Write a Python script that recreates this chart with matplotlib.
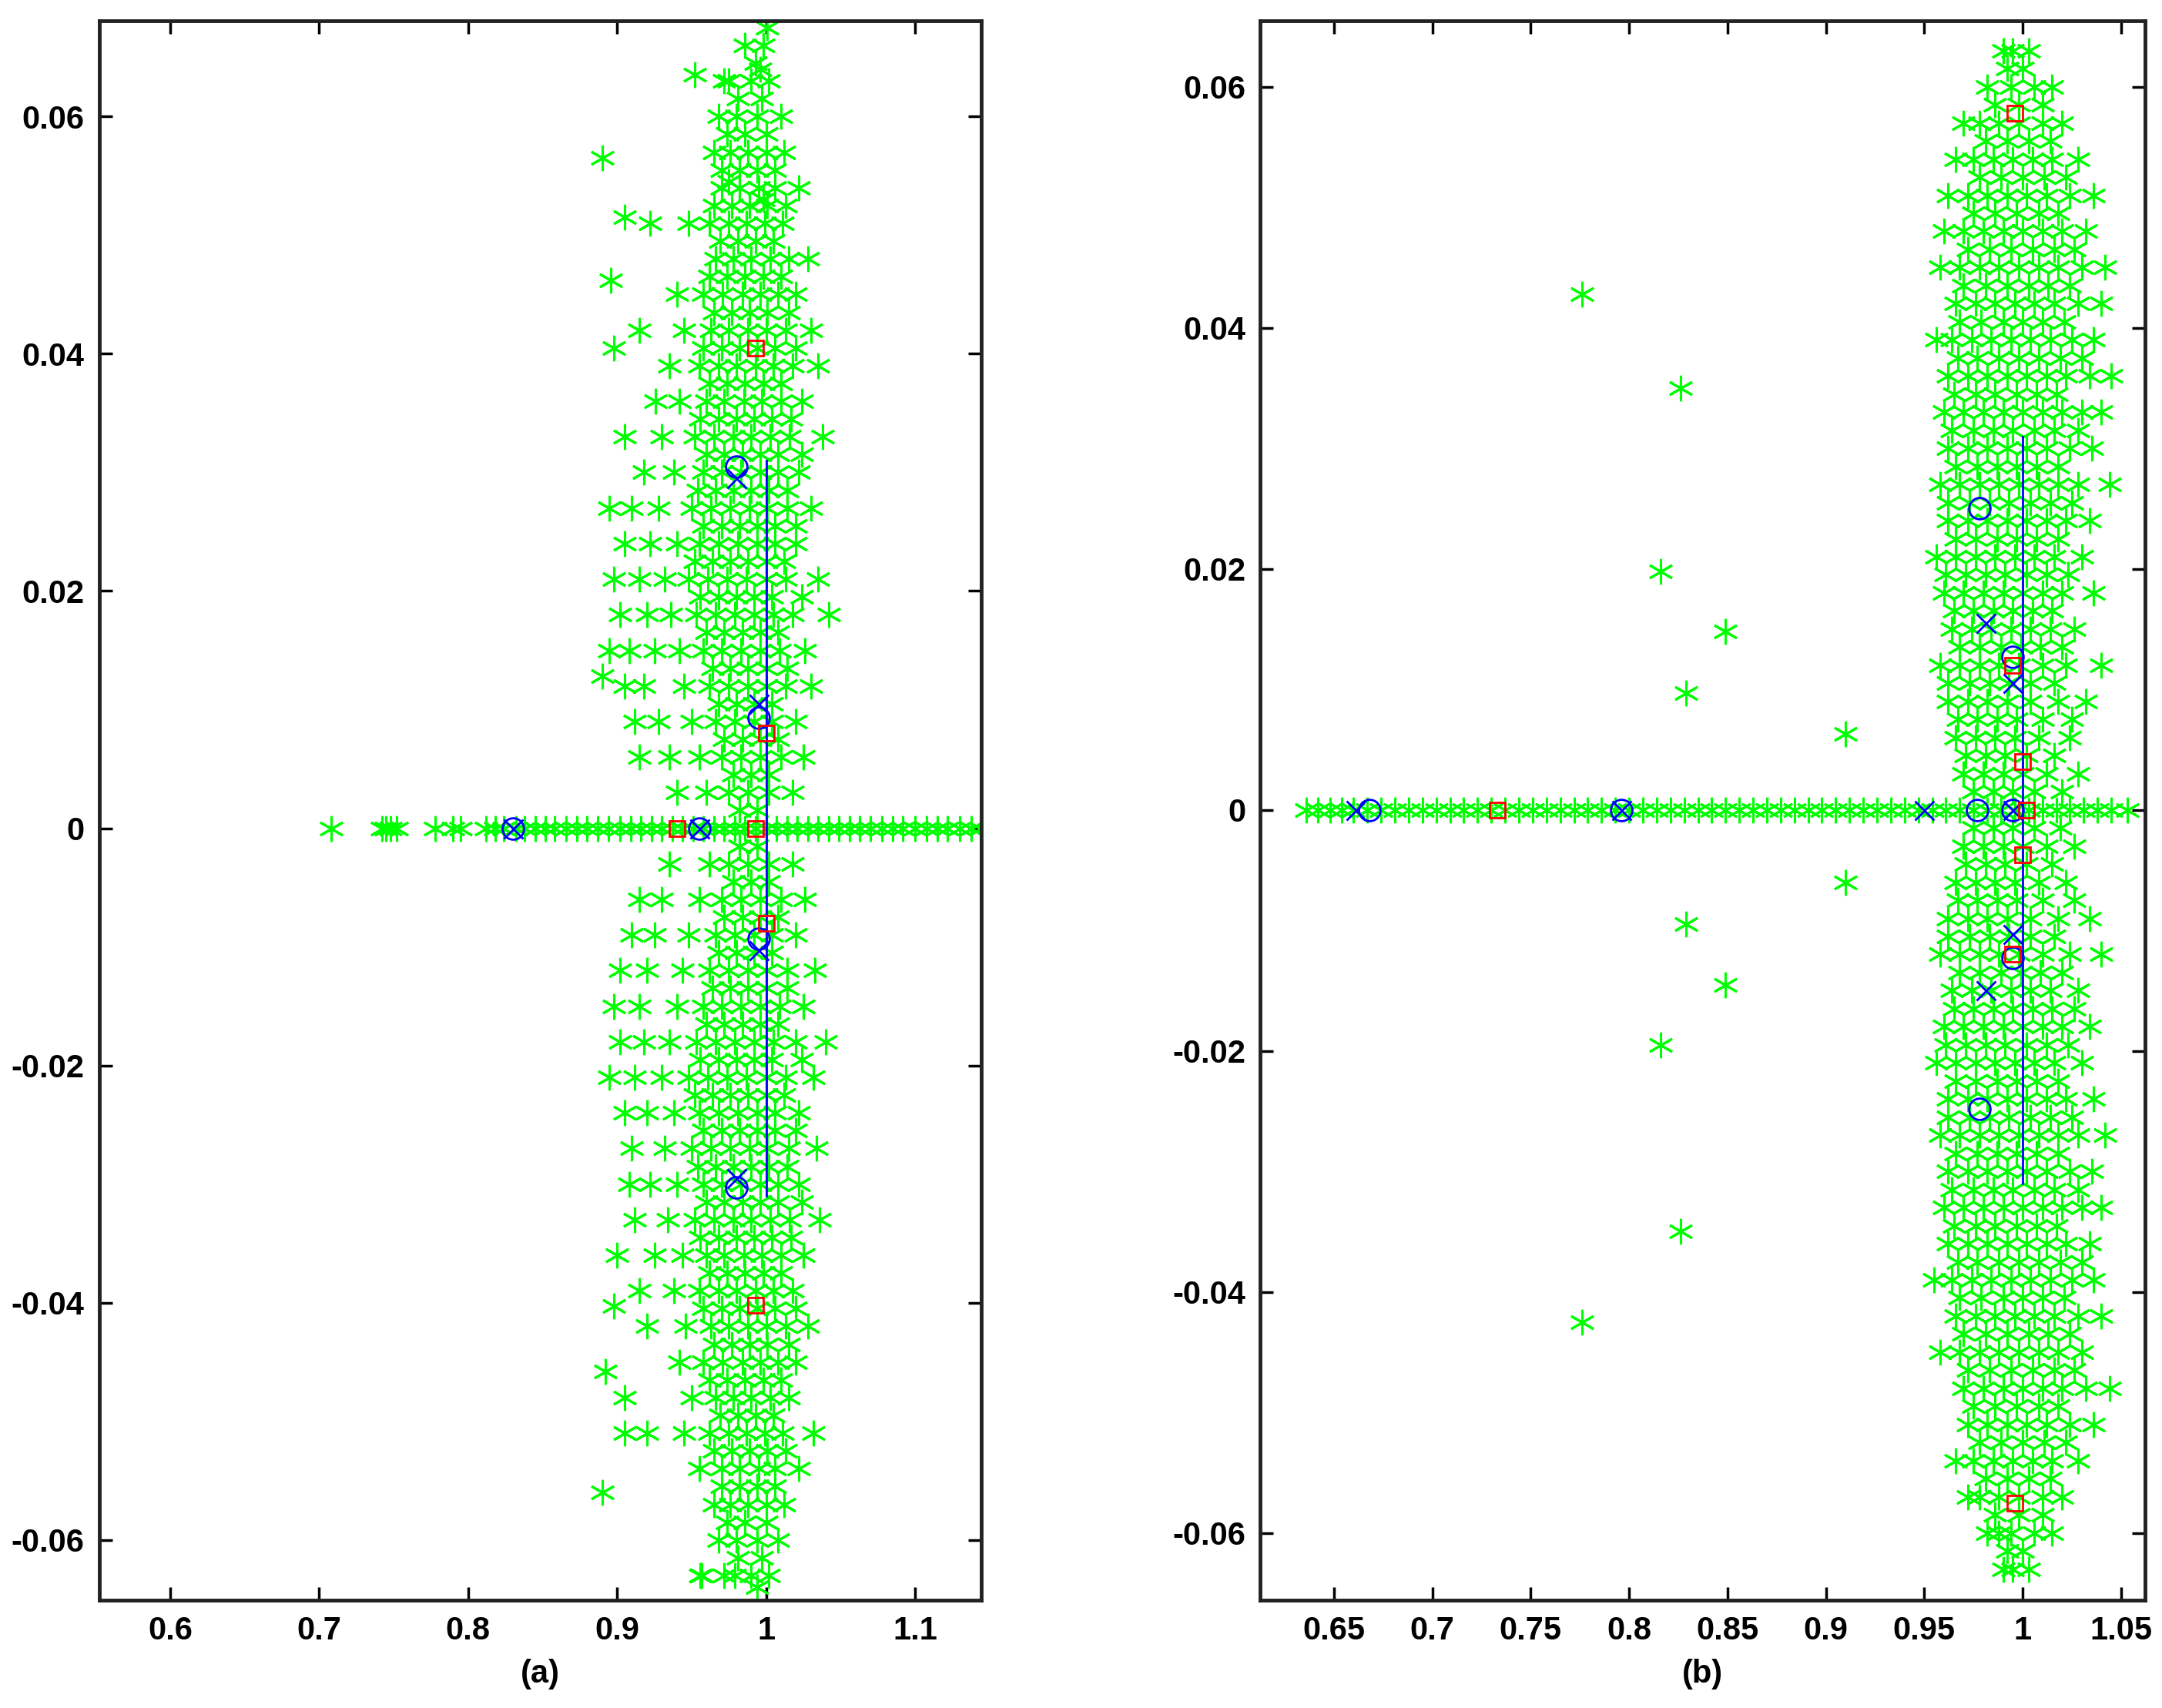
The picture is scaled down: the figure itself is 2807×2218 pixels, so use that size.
import matplotlib
matplotlib.use("Agg")
import matplotlib.pyplot as plt

plt.rcParams['font.family'] = ['Liberation Sans', 'DejaVu Sans']
plt.rcParams['font.weight'] = 'bold'

# ---------------- Panel (a) data ----------------
a_band_x = [0.708, 0.742, 0.745, 0.748, 0.752, 0.778, 0.790, 0.795, 0.812, 0.818, 0.824, 0.832,
            0.838, 0.845, 0.852, 0.858, 0.866, 0.873, 0.880, 0.887, 0.894, 0.902, 0.909, 0.916,
            0.923, 0.930, 0.937, 0.944, 0.951, 0.958, 0.965, 0.972, 0.979, 0.986, 0.993, 1.000,
            1.007, 1.014, 1.021, 1.028, 1.035, 1.042, 1.049, 1.056, 1.063, 1.070, 1.078, 1.085,
            1.092, 1.100, 1.108, 1.115, 1.122, 1.130, 1.138, 1.144]
a_cloud_y = [0.066, 0.063, 0.060, 0.057, 0.054, 0.051, 0.048, 0.045, 0.042, 0.039, 0.036, 0.033,
             0.030, 0.027, 0.024, 0.021, 0.018, 0.015, 0.012, 0.009, 0.006, 0.003,
             -0.003, -0.006, -0.009, -0.012, -0.015, -0.018, -0.021, -0.024, -0.027, -0.030,
             -0.033, -0.036, -0.039, -0.042, -0.045, -0.048, -0.051, -0.054, -0.057, -0.060, -0.063]
a_cloud_x = [
    [0.998, 0.986],
    [0.972, 0.990, 1.002],
    [0.980, 0.994, 0.968, 1.010],
    [0.976, 0.988, 1.000, 0.965, 1.012],
    [0.970, 0.982, 0.995, 1.006, 1.022],
    [0.962, 0.975, 0.987, 0.999, 1.011, 0.948],
    [0.966, 0.978, 0.990, 1.003, 1.015, 1.028],
    [0.958, 0.971, 0.984, 0.996, 1.008, 1.020, 0.940],
    [0.963, 0.975, 0.988, 1.000, 1.013, 1.030, 0.945, 0.915],
    [0.955, 0.968, 0.980, 0.993, 1.005, 1.018, 1.035, 0.935],
    [0.960, 0.972, 0.985, 0.997, 1.010, 1.024, 0.942, 0.926],
    [0.952, 0.965, 0.978, 0.990, 1.003, 1.016, 1.038, 0.930, 0.905],
    [0.958, 0.970, 0.983, 0.996, 1.008, 1.022, 0.938, 0.918],
    [0.950, 0.963, 0.976, 0.989, 1.001, 1.014, 1.030, 0.928, 0.910, 0.895],
    [0.955, 0.968, 0.981, 0.994, 1.006, 1.020, 0.940, 0.922, 0.905],
    [0.948, 0.961, 0.974, 0.987, 1.000, 1.013, 1.035, 0.932, 0.915, 0.898],
    [0.953, 0.966, 0.979, 0.992, 1.005, 1.018, 1.042, 0.936, 0.920, 0.902],
    [0.958, 0.970, 0.983, 0.996, 1.009, 1.026, 0.942, 0.925, 0.908, 0.895],
    [0.962, 0.975, 0.988, 1.000, 1.013, 1.030, 0.945, 0.918, 0.905],
    [0.966, 0.979, 0.992, 1.004, 1.020, 0.950, 0.928, 0.912],
    [0.970, 0.983, 0.996, 1.010, 1.025, 0.955, 0.935, 0.915],
    [0.975, 0.988, 1.002, 1.018, 0.960, 0.940],
    [0.975, 0.988, 1.002, 1.018, 0.962, 0.935],
    [0.970, 0.983, 0.996, 1.010, 1.026, 0.955, 0.930, 0.915],
    [0.966, 0.979, 0.992, 1.004, 1.020, 0.948, 0.925, 0.910],
    [0.962, 0.975, 0.988, 1.000, 1.014, 1.033, 0.944, 0.920, 0.902],
    [0.958, 0.970, 0.983, 0.996, 1.009, 1.025, 0.940, 0.915, 0.898],
    [0.953, 0.966, 0.979, 0.992, 1.005, 1.020, 1.040, 0.935, 0.918, 0.902],
    [0.948, 0.961, 0.974, 0.987, 1.000, 1.013, 1.032, 0.930, 0.912, 0.895],
    [0.955, 0.968, 0.981, 0.994, 1.006, 1.022, 0.938, 0.920, 0.905],
    [0.950, 0.963, 0.976, 0.989, 1.001, 1.015, 1.034, 0.932, 0.910],
    [0.958, 0.970, 0.983, 0.996, 1.008, 1.022, 0.940, 0.922, 0.908],
    [0.952, 0.965, 0.978, 0.990, 1.003, 1.016, 1.036, 0.934, 0.912],
    [0.960, 0.972, 0.985, 0.997, 1.010, 1.025, 0.944, 0.925, 0.900],
    [0.955, 0.968, 0.980, 0.993, 1.005, 1.018, 0.938, 0.915],
    [0.963, 0.975, 0.988, 1.000, 1.013, 1.028, 0.946, 0.920],
    [0.958, 0.971, 0.984, 0.996, 1.008, 1.020, 0.942],
    [0.966, 0.978, 0.990, 1.003, 1.015, 0.950, 0.905],
    [0.962, 0.975, 0.987, 0.999, 1.011, 1.032, 0.945],
    [0.970, 0.982, 0.995, 1.006, 1.022, 0.955],
    [0.976, 0.988, 1.000, 0.965, 1.012],
    [0.980, 0.994, 0.968, 1.008],
    [0.972, 0.990, 1.002, 0.956],
]
# interleaved denser core of panel (a)
a_core_y = [0.0645, 0.0615, 0.0585, 0.0555, 0.0525, 0.0495, 0.0465, 0.0435, 0.0405, 0.0375,
            0.0345, 0.0315, 0.0285, 0.0255, 0.0225, 0.0195, 0.0165, 0.0135, 0.0105, 0.0075,
            0.0045, 0.0015, -0.0015, -0.0045, -0.0075, -0.0105, -0.0135, -0.0165, -0.0195,
            -0.0225, -0.0255, -0.0285, -0.0315, -0.0345, -0.0375, -0.0405, -0.0435, -0.0465,
            -0.0495, -0.0525, -0.0555, -0.0585, -0.0615]
a_core_x = [
    [0.993], [0.981, 0.997], [0.974, 0.986, 1.000], [0.970, 0.982, 0.994, 1.006],
    [0.965, 0.977, 0.989, 1.001, 1.013], [0.969, 0.981, 0.993, 1.005], [0.962, 0.974, 0.986, 0.998, 1.010],
    [0.965, 0.977, 0.989, 1.001, 1.015], [0.958, 0.970, 0.982, 0.994, 1.006, 1.020],
    [0.962, 0.974, 0.986, 0.998, 1.010], [0.956, 0.968, 0.980, 0.992, 1.004, 1.017],
    [0.960, 0.972, 0.984, 0.996, 1.008, 1.024], [0.954, 0.966, 0.978, 0.990, 1.002, 1.014],
    [0.958, 0.970, 0.982, 0.994, 1.006, 1.020], [0.952, 0.964, 0.976, 0.988, 1.000, 1.012],
    [0.956, 0.968, 0.980, 0.992, 1.004, 1.024], [0.960, 0.972, 0.984, 0.996, 1.008],
    [0.964, 0.976, 0.988, 1.000, 1.014], [0.968, 0.980, 0.992, 1.004], [0.972, 0.984, 0.996, 1.008],
    [0.978, 0.990, 1.002], [0.982, 0.994], [0.982, 0.994], [0.978, 0.990, 1.002],
    [0.972, 0.984, 0.996, 1.008], [0.968, 0.980, 0.992, 1.004], [0.964, 0.976, 0.988, 1.000, 1.014],
    [0.960, 0.972, 0.984, 0.996, 1.008], [0.956, 0.968, 0.980, 0.992, 1.004, 1.024],
    [0.952, 0.964, 0.976, 0.988, 1.000, 1.012], [0.958, 0.970, 0.982, 0.994, 1.006, 1.020],
    [0.954, 0.966, 0.978, 0.990, 1.002, 1.014], [0.960, 0.972, 0.984, 0.996, 1.008, 1.024],
    [0.956, 0.968, 0.980, 0.992, 1.004, 1.017], [0.962, 0.974, 0.986, 0.998, 1.010],
    [0.958, 0.970, 0.982, 0.994, 1.006, 1.020], [0.965, 0.977, 0.989, 1.001, 1.015],
    [0.962, 0.974, 0.986, 0.998, 1.010], [0.969, 0.981, 0.993, 1.005],
    [0.965, 0.977, 0.989, 1.001, 1.013], [0.970, 0.982, 0.994, 1.006], [0.974, 0.986, 1.000],
    [0.981, 0.997],
]
a_out_x = [0.890, 0.896, 0.905, 0.922, 0.898, 0.890, 0.892, 0.920, 0.905, 0.898, 0.890, 0.952, 0.975, 0.996, 1.001, 0.979, 0.994, 0.957, 0.998, 0.975]
a_out_y = [0.0565, 0.0462, 0.0515, 0.0510, 0.0405, -0.0560, -0.0458, -0.0510, -0.0510, -0.0403, 0.0128, 0.0635, 0.0630, 0.0640, 0.0675, -0.0630, -0.0640, -0.0630, 0.0530, 0.0545]
a_o_x = [0.830, 0.955, 0.980, 0.995, 0.995, 0.980]
a_o_y = [0.0, 0.0, 0.0305, 0.0093, -0.0093, -0.0303]
a_x_x = [0.830, 0.955, 0.980, 0.995, 0.995, 0.980]
a_x_y = [0.0, 0.0, 0.0295, 0.0105, -0.0103, -0.0295]
a_s_x = [0.993, 1.000, 0.940, 0.993, 1.000, 0.993]
a_s_y = [0.0405, 0.0080, 0.0, 0.0, -0.0080, -0.0402]
a_line_x = [1.0, 1.0]
a_line_y = [-0.031, 0.031]

# ---------------- Panel (b) data ----------------
b_band_x = [0.636, 0.642, 0.648, 0.654, 0.660, 0.667, 0.674, 0.681, 0.688, 0.695, 0.702, 0.709,
            0.716, 0.723, 0.730, 0.737, 0.744, 0.751, 0.758, 0.765, 0.772, 0.779, 0.786, 0.793,
            0.800, 0.807, 0.814, 0.821, 0.828, 0.835, 0.842, 0.849, 0.856, 0.863, 0.870, 0.877,
            0.884, 0.891, 0.898, 0.905, 0.912, 0.919, 0.926, 0.933, 0.940, 0.947, 0.954, 0.961,
            0.968, 0.975, 0.982, 0.989, 0.996, 1.003, 1.010, 1.017, 1.024, 1.031, 1.038, 1.045, 1.053]
b_cloud_y = [0.063, 0.060, 0.057, 0.054, 0.051, 0.048, 0.045, 0.042, 0.039, 0.036, 0.033, 0.030,
             0.027, 0.024, 0.021, 0.018, 0.015, 0.012, 0.009, 0.006, 0.003,
             -0.003, -0.006, -0.009, -0.012, -0.015, -0.018, -0.021, -0.024, -0.027, -0.030,
             -0.033, -0.036, -0.039, -0.042, -0.045, -0.048, -0.051, -0.054, -0.057, -0.060, -0.063]
b_cloud_x = [
    [0.995, 1.003, 0.990],
    [0.982, 0.994, 1.006, 1.015],
    [0.978, 0.988, 0.998, 1.010, 1.020, 0.970],
    [0.975, 0.985, 0.995, 1.005, 1.015, 1.028, 0.966],
    [0.972, 0.982, 0.992, 1.002, 1.012, 1.024, 1.036, 0.962],
    [0.970, 0.980, 0.990, 1.000, 1.010, 1.020, 1.032, 0.960],
    [0.968, 0.978, 0.988, 0.998, 1.008, 1.018, 1.030, 1.042, 0.958],
    [0.966, 0.976, 0.986, 0.996, 1.006, 1.016, 1.028, 1.040],
    [0.964, 0.974, 0.984, 0.994, 1.004, 1.014, 1.025, 1.036, 0.956],
    [0.962, 0.972, 0.982, 0.992, 1.002, 1.012, 1.022, 1.034, 1.045],
    [0.960, 0.970, 0.980, 0.990, 1.000, 1.010, 1.020, 1.030, 1.040],
    [0.962, 0.972, 0.982, 0.992, 1.002, 1.012, 1.024, 1.035],
    [0.958, 0.968, 0.978, 0.988, 0.998, 1.008, 1.018, 1.028, 1.044],
    [0.962, 0.972, 0.982, 0.992, 1.002, 1.012, 1.022, 1.034],
    [0.956, 0.966, 0.976, 0.986, 0.996, 1.006, 1.016, 1.030],
    [0.960, 0.970, 0.980, 0.990, 1.000, 1.010, 1.020, 1.036],
    [0.964, 0.974, 0.984, 0.994, 1.004, 1.014, 1.026],
    [0.958, 0.968, 0.978, 0.988, 0.998, 1.010, 1.022, 1.040],
    [0.962, 0.972, 0.982, 0.992, 1.004, 1.018, 1.032],
    [0.966, 0.976, 0.986, 0.996, 1.008, 1.024],
    [0.970, 0.980, 0.990, 1.000, 1.012, 1.028],
    [0.970, 0.980, 0.990, 1.000, 1.012, 1.026],
    [0.966, 0.976, 0.986, 0.996, 1.008, 1.022],
    [0.962, 0.972, 0.982, 0.992, 1.004, 1.018, 1.034],
    [0.958, 0.968, 0.978, 0.988, 0.998, 1.010, 1.024, 1.040],
    [0.964, 0.974, 0.984, 0.994, 1.004, 1.014, 1.028],
    [0.960, 0.970, 0.980, 0.990, 1.000, 1.010, 1.020, 1.034],
    [0.956, 0.966, 0.976, 0.986, 0.996, 1.006, 1.016, 1.030],
    [0.962, 0.972, 0.982, 0.992, 1.002, 1.012, 1.022, 1.036],
    [0.958, 0.968, 0.978, 0.988, 0.998, 1.008, 1.018, 1.028, 1.042],
    [0.962, 0.972, 0.982, 0.992, 1.002, 1.012, 1.024, 1.035],
    [0.960, 0.970, 0.980, 0.990, 1.000, 1.010, 1.020, 1.030, 1.040],
    [0.962, 0.972, 0.982, 0.992, 1.002, 1.012, 1.022, 1.034],
    [0.964, 0.974, 0.984, 0.994, 1.004, 1.014, 1.025, 1.036, 0.955],
    [0.966, 0.976, 0.986, 0.996, 1.006, 1.016, 1.028, 1.040],
    [0.968, 0.978, 0.988, 0.998, 1.008, 1.018, 1.030, 0.958],
    [0.970, 0.980, 0.990, 1.000, 1.010, 1.020, 1.032, 1.044],
    [0.972, 0.982, 0.992, 1.002, 1.012, 1.024, 1.036],
    [0.975, 0.985, 0.995, 1.005, 1.015, 1.028, 0.966],
    [0.978, 0.988, 0.998, 1.010, 1.020, 0.972],
    [0.982, 0.994, 1.006, 1.015, 0.988],
    [0.995, 1.003, 0.990],
]
# interleaved denser core of panel (b)
b_core_y = [0.0615, 0.0585, 0.0555, 0.0525, 0.0495, 0.0465, 0.0435, 0.0405, 0.0375, 0.0345,
            0.0315, 0.0285, 0.0255, 0.0225, 0.0195, 0.0165, 0.0135, 0.0105, 0.0075, 0.0045,
            0.0015, -0.0015, -0.0045, -0.0075, -0.0105, -0.0135, -0.0165, -0.0195, -0.0225,
            -0.0255, -0.0285, -0.0315, -0.0345, -0.0375, -0.0405, -0.0435, -0.0465, -0.0495,
            -0.0525, -0.0555, -0.0585, -0.0615]
b_core_x = [
    [0.992, 1.000], [0.986, 0.998, 1.010], [0.981, 0.992, 1.003, 1.014], [0.978, 0.989, 1.000, 1.011, 1.022],
    [0.975, 0.986, 0.997, 1.008, 1.018], [0.972, 0.983, 0.994, 1.005, 1.016, 1.026],
    [0.970, 0.981, 0.992, 1.003, 1.013, 1.024], [0.968, 0.979, 0.990, 1.000, 1.010, 1.021],
    [0.967, 0.977, 0.988, 0.998, 1.008, 1.019, 1.030], [0.965, 0.976, 0.986, 0.997, 1.007, 1.017],
    [0.964, 0.975, 0.985, 0.995, 1.006, 1.016, 1.028], [0.966, 0.977, 0.987, 0.997, 1.007, 1.018],
    [0.962, 0.973, 0.983, 0.993, 1.004, 1.014, 1.025], [0.966, 0.976, 0.987, 0.997, 1.007, 1.018],
    [0.961, 0.971, 0.981, 0.991, 1.002, 1.012, 1.023], [0.965, 0.975, 0.985, 0.995, 1.005, 1.015],
    [0.968, 0.978, 0.989, 0.999, 1.009, 1.020], [0.962, 0.973, 0.983, 0.993, 1.004, 1.016],
    [0.967, 0.977, 0.987, 0.997, 1.010, 1.025], [0.971, 0.981, 0.991, 1.002, 1.016],
    [0.975, 0.985, 0.995, 1.006, 1.020], [0.975, 0.985, 0.995, 1.006, 1.019],
    [0.971, 0.981, 0.991, 1.002, 1.015], [0.967, 0.977, 0.987, 0.997, 1.010, 1.026],
    [0.962, 0.973, 0.983, 0.993, 1.004, 1.016], [0.968, 0.978, 0.989, 0.999, 1.009, 1.020],
    [0.965, 0.975, 0.985, 0.995, 1.005, 1.015, 1.026], [0.961, 0.971, 0.981, 0.991, 1.002, 1.012, 1.023],
    [0.966, 0.976, 0.987, 0.997, 1.007, 1.018], [0.962, 0.973, 0.983, 0.993, 1.004, 1.014, 1.025],
    [0.966, 0.977, 0.987, 0.997, 1.007, 1.018], [0.964, 0.975, 0.985, 0.995, 1.006, 1.016, 1.028],
    [0.965, 0.976, 0.986, 0.997, 1.007, 1.017], [0.967, 0.977, 0.988, 0.998, 1.008, 1.019, 1.030],
    [0.968, 0.979, 0.990, 1.000, 1.010, 1.021], [0.970, 0.981, 0.992, 1.003, 1.013, 1.024],
    [0.972, 0.983, 0.994, 1.005, 1.016, 1.026], [0.975, 0.986, 0.997, 1.008, 1.018],
    [0.978, 0.989, 1.000, 1.011, 1.022], [0.981, 0.992, 1.003, 1.014], [0.986, 0.998, 1.010],
    [0.992, 1.000],
]
b_out_x = [0.776, 0.826, 0.816, 0.849, 0.829, 0.910, 0.910, 0.829, 0.849, 0.816, 0.826, 0.776]
b_out_y = [0.0428, 0.0350, 0.0198, 0.0148, 0.0097, 0.0063, -0.0060, -0.0095, -0.0145, -0.0195, -0.0350, -0.0425]
b_o_x = [0.668, 0.796, 0.977, 0.978, 0.995, 0.995, 0.995, 0.978]
b_o_y = [0.0, 0.0, 0.0, 0.0250, 0.0127, 0.0, -0.0123, -0.0248]
b_x_x = [0.661, 0.796, 0.950, 0.981, 0.995, 0.995, 0.995, 0.981]
b_x_y = [0.0, 0.0, 0.0, 0.0155, 0.0105, 0.0, -0.0103, -0.0150]
b_s_x = [0.996, 0.733, 0.995, 1.000, 1.002, 1.000, 0.995, 0.996]
b_s_y = [0.0578, 0.0, 0.0120, 0.0040, 0.0, -0.0037, -0.0120, -0.0575]
b_line_x = [1.0, 1.0]
b_line_y = [-0.031, 0.031]

fig = plt.figure(figsize=(28.07, 22.18), dpi=100)
ax1 = fig.add_axes([0.046, 0.063, 0.408, 0.925])
ax2 = fig.add_axes([0.583, 0.063, 0.409, 0.925])

AST = (6, 2, 0)
GREEN = (0, 1, 0)

def flatten(cy, cx):
    gx, gy = [], []
    for y, xs in zip(cy, cx):
        gx += xs
        gy += [y] * len(xs)
    return gx, gy

def panel(ax, band_x, cy, cx, ky, kx, ox, oy, o_x, o_y, x_x, x_y, s_x, s_y, lx, ly):
    gx, gy = flatten(cy, cx)
    hx, hy = flatten(ky, kx)
    gx += hx; gy += hy
    gx += band_x; gy += [0.0] * len(band_x)
    gx += ox; gy += oy
    ax.plot(gx, gy, linestyle='none', marker=AST, ms=24, mec=GREEN, mfc=GREEN, mew=2.2)
    ax.plot(lx, ly, color='blue', lw=2)
    ax.plot(o_x, o_y, linestyle='none', marker='o', ms=20, mfc='none', mec='blue', mew=2)
    ax.plot(x_x, x_y, linestyle='none', marker='x', ms=18, mec='blue', mew=2)
    ax.plot(s_x, s_y, linestyle='none', marker='s', ms=14, mfc='none', mec='red', mew=2)
    ax.tick_params(direction='in', top=True, right=True, length=12, width=2.5, labelsize=30, pad=14)
    for s in ax.spines.values():
        s.set_linewidth(3.5)
        s.set_color('#222222')

panel(ax1, a_band_x, a_cloud_y, a_cloud_x, a_core_y, a_core_x, a_out_x, a_out_y,
      a_o_x, a_o_y, a_x_x, a_x_y, a_s_x, a_s_y, a_line_x, a_line_y)
panel(ax2, b_band_x, b_cloud_y, b_cloud_x, b_core_y, b_core_x, b_out_x, b_out_y,
      b_o_x, b_o_y, b_x_x, b_x_y, b_s_x, b_s_y, b_line_x, b_line_y)

ax1.set_xlim(0.5525, 1.1447)
ax1.set_ylim(-0.0651, 0.0681)
ax1.set_xticks([0.6, 0.7, 0.8, 0.9, 1.0, 1.1])
ax1.set_xticklabels(['0.6', '0.7', '0.8', '0.9', '1', '1.1'])
ax1.set_yticks([-0.06, -0.04, -0.02, 0, 0.02, 0.04, 0.06])
ax1.set_yticklabels(['-0.06', '-0.04', '-0.02', '0', '0.02', '0.04', '0.06'])
ax1.set_xlabel('(a)', fontsize=30, fontweight='bold', labelpad=12)

ax2.set_xlim(0.6127, 1.062)
ax2.set_ylim(-0.0656, 0.0655)
ax2.set_xticks([0.65, 0.7, 0.75, 0.8, 0.85, 0.9, 0.95, 1.0, 1.05])
ax2.set_xticklabels(['0.65', '0.7', '0.75', '0.8', '0.85', '0.9', '0.95', '1', '1.05'])
ax2.set_yticks([-0.06, -0.04, -0.02, 0, 0.02, 0.04, 0.06])
ax2.set_yticklabels(['-0.06', '-0.04', '-0.02', '0', '0.02', '0.04', '0.06'])
ax2.set_xlabel('(b)', fontsize=30, fontweight='bold', labelpad=12)

for ax in (ax1, ax2):
    for lab in ax.get_xticklabels() + ax.get_yticklabels():
        lab.set_fontweight('bold')

fig.savefig('out.png', dpi=100)
